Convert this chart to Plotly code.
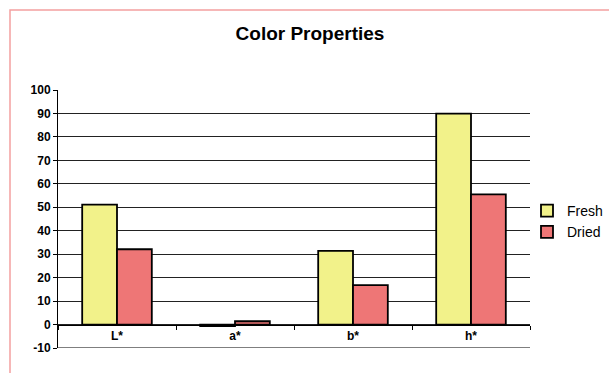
import plotly.graph_objects as go

categories = ["L*", "a*", "b*", "h*"]
fresh = [51.1, -0.7, 31.4, 89.9]
dried = [32.1, 1.4, 16.8, 55.5]
y_ticks = [-10, 0, 10, 20, 30, 40, 50, 60, 70, 80, 90, 100]

W, H = 609, 373
L, R, T, B = 58, 79, 90, 25
pw, ph = W - L - R, H - T - B

def px_x(px):
    return (px - L) / pw

def px_y(py):
    return (H - B - py) / ph

fig = go.Figure()
fig.add_trace(go.Bar(name="Fresh", x=categories, y=fresh,
                     marker=dict(color="#F2F28A", line=dict(color="black", width=1.8))))
fig.add_trace(go.Bar(name="Dried", x=categories, y=dried,
                     marker=dict(color="#EE7676", line=dict(color="black", width=1.8))))

ymin, ymax = -10, 100
fig.update_layout(
    width=W, height=H,
    margin=dict(l=L, r=R, t=T, b=B, autoexpand=False),
    paper_bgcolor="white", plot_bgcolor="white",
    barmode="group", bargap=0.41, bargroupgap=0,
    font=dict(family="Liberation Sans, Arial, sans-serif", color="black"),
    title=dict(text="<b>Color Properties</b>", x=310 / W, xanchor="center",
               xref="container", y=1 - 33 / H, yanchor="middle",
               font=dict(size=19, color="black")),
    legend=dict(x=px_x(527), y=px_y(195), xanchor="left", yanchor="top",
                font=dict(size=14), bgcolor="rgba(0,0,0,0)", tracegroupgap=0,
                itemwidth=30),
    showlegend=True,
)
fig.update_yaxes(range=[ymin, ymax], tickvals=y_ticks,
                 ticktext=[f"<b>{v}</b>" for v in y_ticks],
                 showgrid=True, gridcolor="#222222", gridwidth=1,
                 showline=True, linecolor="black", linewidth=1,
                 ticks="outside", ticklen=4, tickcolor="black",
                 zeroline=False, tickfont=dict(size=12), fixedrange=True)
fig.update_xaxes(anchor="free", position=(0 - ymin) / (ymax - ymin),
                 showline=True, linecolor="black", linewidth=1,
                 ticks="outside", ticklen=4, tickcolor="black",
                 tickson="boundaries", showgrid=False,
                 tickvals=categories,
                 ticktext=[f"<b>{c}</b>" for c in categories],
                 tickfont=dict(size=12))
# bottom line at -10
fig.add_shape(type="line", xref="paper", yref="y", x0=0, x1=1, y0=ymin, y1=ymin,
              line=dict(color="black", width=1.2))
# outer pink frame
fig.add_shape(type="rect", xref="paper", yref="paper",
              x0=px_x(10), x1=px_x(700), y0=px_y(500), y1=px_y(10),
              line=dict(color="#F4A0A0", width=1.5), layer="below")

fig.write_html("out.html")
